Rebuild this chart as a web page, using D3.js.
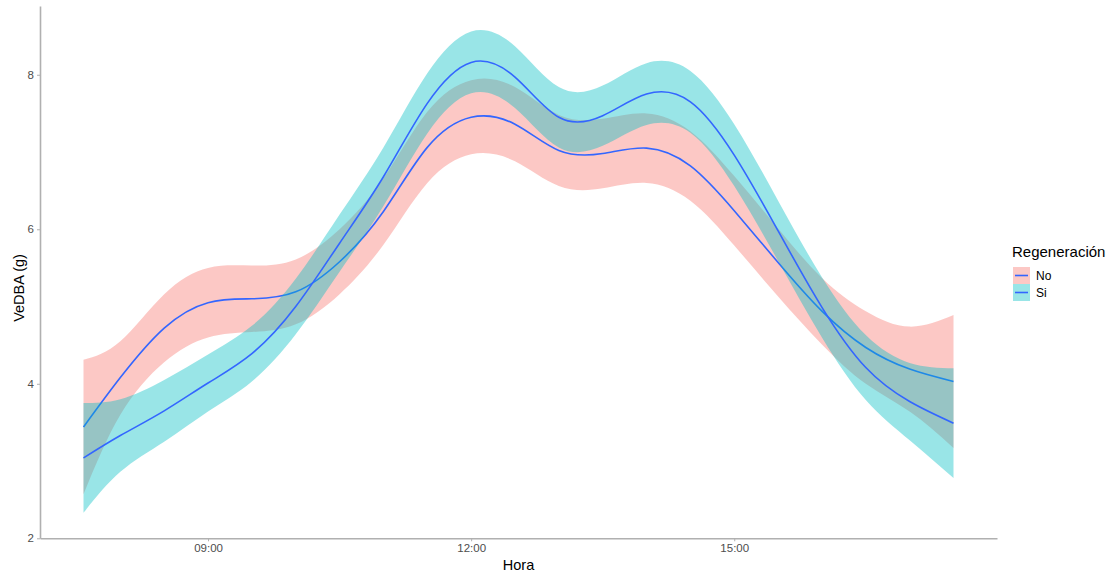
<!DOCTYPE html>
<html>
<head>
<meta charset="utf-8">
<script src="https://cdn.jsdelivr.net/npm/d3@7"></script>
<style>
  body { margin: 0; background: #fff; }
  text { font-family: "Liberation Sans", Arial, sans-serif; }
</style>
</head>
<body>
<div id="chart"></div>
<script>
const width = 1111;
const height = 577;

// hour of day (decimal) for each point of the smoothed curves
const hours = [7.58, 8, 8.5, 9, 9.5, 10, 10.5, 11, 11.5, 12, 12.5, 13, 13.5, 14, 14.5, 15, 15.5, 16, 16.5, 17, 17.5];

// Regeneración = No
const noFit   = [3.44, 4.08, 4.72, 5.05, 5.10, 5.19, 5.58, 6.23, 7.06, 7.45, 7.36, 7.02, 6.98, 7.05, 6.82, 6.24, 5.57, 4.94, 4.47, 4.19, 4.03];
const noLower = [2.57, 3.60, 4.28, 4.60, 4.67, 4.77, 5.16, 5.80, 6.60, 6.97, 6.88, 6.56, 6.53, 6.60, 6.37, 5.79, 5.13, 4.51, 4.00, 3.64, 3.17];
const noUpper = [4.31, 4.55, 5.16, 5.50, 5.53, 5.61, 6.00, 6.66, 7.52, 7.93, 7.84, 7.48, 7.43, 7.50, 7.27, 6.69, 6.01, 5.37, 4.94, 4.74, 4.89];

// Regeneración = Si
const siFit   = [3.04, 3.33, 3.65, 4.01, 4.39, 5.00, 5.82, 6.68, 7.63, 8.16, 7.97, 7.45, 7.47, 7.75, 7.65, 6.96, 5.98, 4.99, 4.21, 3.77, 3.49];
const siLower = [2.33, 2.86, 3.25, 3.64, 4.03, 4.64, 5.45, 6.30, 7.24, 7.76, 7.57, 7.06, 7.08, 7.35, 7.25, 6.56, 5.59, 4.60, 3.79, 3.27, 2.78];
const siUpper = [3.75, 3.80, 4.05, 4.38, 4.75, 5.36, 6.19, 7.06, 8.02, 8.56, 8.37, 7.84, 7.86, 8.15, 8.05, 7.36, 6.37, 5.38, 4.63, 4.27, 4.20];

const groups = ["No", "Si"];
const groupFills = ["#F8766D", "#00BFC4"];
const xTicks = [9, 12, 15];
const yTicks = [2, 4, 6, 8];

const series = [
  { name: "No", fit: noFit, lower: noLower, upper: noUpper },
  { name: "Si", fit: siFit, lower: siLower, upper: siUpper },
];

const fillScale = d3.scaleOrdinal().domain(groups).range(groupFills);

const svg = d3
  .select("#chart")
  .append("svg")
  .attr("width", width)
  .attr("height", height);

// panel limits, ggplot style 5% expansion on x
const xExt = d3.extent(hours);
const xPad = (xExt[1] - xExt[0]) * 0.05;
const x = d3.scaleLinear().domain([xExt[0] - xPad, xExt[1] + xPad]).range([40, 997]);
const y = d3.scaleLinear().domain([2, 8.89]).range([538.3, 6]);

const area = d3
  .area()
  .x((d) => x(d.h))
  .y0((d) => y(d.lo))
  .y1((d) => y(d.hi))
  .curve(d3.curveNatural);

const line = d3
  .line()
  .x((d) => x(d.h))
  .y((d) => y(d.v))
  .curve(d3.curveNatural);

const plot = svg.append("g").attr("class", "smooths");

series.forEach((s) => {
  const pts = hours.map((h, i) => ({ h: h, v: s.fit[i], lo: s.lower[i], hi: s.upper[i] }));
  plot
    .append("path")
    .attr("d", area(pts))
    .attr("fill", fillScale(s.name))
    .attr("fill-opacity", 0.4);
  plot
    .append("path")
    .attr("d", line(pts))
    .attr("fill", "none")
    .attr("stroke", "#3366FF")
    .attr("stroke-width", 1.6);
});

// axes
const fmtHour = (h) => d3.format("02d")(h) + ":00";

const xAxis = svg
  .append("g")
  .attr("transform", `translate(0,${y(2)})`)
  .call(d3.axisBottom(x).tickValues(xTicks).tickFormat(fmtHour).tickSize(3).tickPadding(3).tickSizeOuter(0));

const yAxis = svg
  .append("g")
  .attr("transform", `translate(${x.range()[0]},0)`)
  .call(d3.axisLeft(y).tickValues(yTicks).tickFormat(d3.format("d")).tickSize(3).tickPadding(3).tickSizeOuter(0));

[xAxis, yAxis].forEach((ax) => {
  ax.select(".domain").attr("stroke", "#b0b0b0").attr("stroke-width", 1.6);
  ax.selectAll(".tick line").attr("stroke", "#b0b0b0");
  ax.selectAll(".tick text")
    .attr("fill", "#4d4d4d")
    .style("font-size", "11.5px")
    .style("font-family", "'Liberation Sans', Arial, sans-serif");
});

svg
  .append("text")
  .attr("x", (x.range()[0] + x.range()[1]) / 2)
  .attr("y", 570)
  .attr("text-anchor", "middle")
  .style("font-size", "14.5px")
  .text("Hora");

svg
  .append("text")
  .attr("transform", "translate(24,288) rotate(-90)")
  .attr("text-anchor", "middle")
  .style("font-size", "14.5px")
  .text("VeDBA (g)");

// legend
const legend = svg.append("g").attr("transform", "translate(1012,257)");

legend
  .append("text")
  .attr("x", 0)
  .attr("y", 0)
  .style("font-size", "15px")
  .text("Regeneración");

const keys = legend
  .selectAll("g.key")
  .data(groups)
  .enter()
  .append("g")
  .attr("class", "key")
  .attr("transform", (d, i) => `translate(1,${10 + i * 17})`);

keys
  .append("rect")
  .attr("width", 17)
  .attr("height", 17)
  .attr("fill", (d) => fillScale(d))
  .attr("fill-opacity", 0.4);

keys
  .append("line")
  .attr("x1", 2)
  .attr("x2", 15)
  .attr("y1", 8.5)
  .attr("y2", 8.5)
  .attr("stroke", "#3366FF")
  .attr("stroke-width", 1.6);

keys
  .append("text")
  .attr("x", 23)
  .attr("y", 13)
  .style("font-size", "12px")
  .text((d) => d);
</script>
</body>
</html>
